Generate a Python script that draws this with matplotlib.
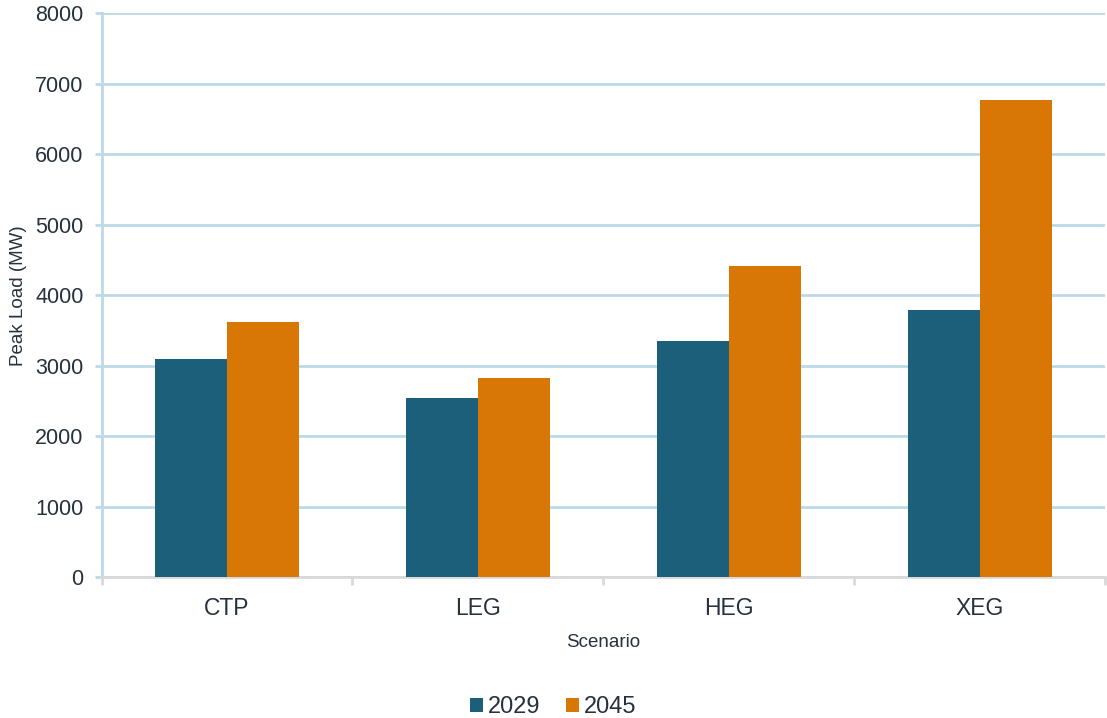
import numpy as np
import matplotlib.pyplot as plt

plt.rcParams['font.family'] = ['Liberation Sans', 'DejaVu Sans']

scenarios = ['CTP', 'LEG', 'HEG', 'XEG']
peak_2029 = [3092, 2539, 3348, 3792]
peak_2045 = [3617, 2827, 4416, 6770]
y_ticks = [0, 1000, 2000, 3000, 4000, 5000, 6000, 7000, 8000]

blue = '#1b5f7a'
orange = '#d97706'
grid_col = '#bcd9e8'
text_col = '#26313d'

fig = plt.figure(figsize=(11.07, 7.18), dpi=100)
ax = fig.add_axes([101.5 / 1107, (718 - 577.3) / 718, 1003.5 / 1107, 564 / 718])

x = np.arange(len(scenarios))
w = 0.287
ax.bar(x - w / 2, peak_2029, w, color=blue, label='2029', zorder=3)
ax.bar(x + w / 2, peak_2045, w, color=orange, label='2045', zorder=3)

ax.set_xlim(-0.5, len(scenarios) - 0.5)
ax.set_ylim(0, 8000)
ax.set_yticks(y_ticks)
ax.set_yticklabels([str(v) for v in y_ticks], fontsize=15.5, color=text_col)
ax.set_xticks(x)
ax.set_xticklabels(scenarios, fontsize=16.5, color=text_col)
ax.set_xticks(np.arange(len(scenarios) + 1) - 0.5, minor=True)

ax.yaxis.grid(True, color=grid_col, linewidth=2, zorder=0)
ax.set_axisbelow(True)
for s in ['top', 'right']:
    ax.spines[s].set_visible(False)
ax.spines['left'].set_color(grid_col)
ax.spines['left'].set_linewidth(2)
ax.spines['bottom'].set_color('#d9d9d9')
ax.spines['bottom'].set_linewidth(2)

ax.tick_params(axis='y', length=5, width=2, color=grid_col, pad=8)
ax.tick_params(axis='x', which='major', length=0, pad=14)
ax.tick_params(axis='x', which='minor', length=6, width=2, color='#d9d9d9')

ax.set_xlabel('Scenario', fontsize=13.5, color=text_col, labelpad=10)
ax.set_ylabel('Peak Load (MW)', fontsize=13.5, color=text_col, labelpad=6)

fig.legend(loc='lower center', bbox_to_anchor=(0.5, -0.03), ncol=2, frameon=False,
           fontsize=17, handlelength=0.55, handleheight=0.55, handletextpad=0.2,
           columnspacing=1.1, labelcolor=text_col)

fig.savefig('out.png', dpi=100)
